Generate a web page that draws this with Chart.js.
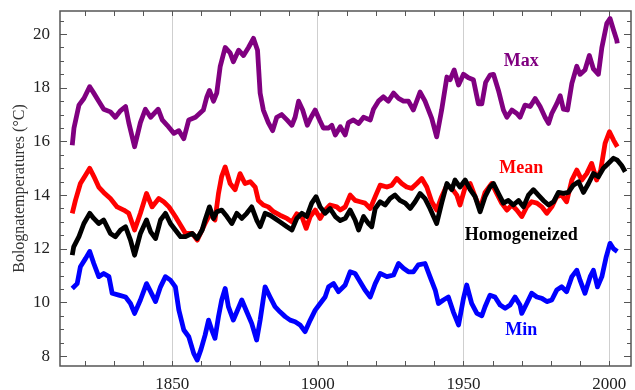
<!DOCTYPE html>
<html>
<head>
<meta charset="utf-8">
<script src="https://cdn.jsdelivr.net/npm/chart.js@4.4.1/dist/chart.umd.min.js"></script>
<style>
  html, body { margin: 0; padding: 0; background: #fff; }
  #wrap { width: 635px; height: 390px; }
</style>
</head>
<body>
<div id="wrap"><canvas id="chart" width="635" height="390"></canvas></div>
<script>
// values (running means, °C)
const maxYears = [1815.7, 1816.3, 1818.0, 1819.7, 1821.7, 1823.1, 1824.8, 1826.5, 1828.8, 1830.5, 1832.3, 1834.0, 1835.1, 1837.1, 1839.1, 1840.8, 1842.6, 1845.2, 1846.6, 1848.3, 1850.6, 1852.3, 1854.0, 1855.7, 1858.0,
  1860.7, 1861.9, 1862.8, 1864.2, 1865.3, 1866.5, 1868.2, 1869.9, 1871.0, 1872.8, 1874.5, 1876.2, 1877.9, 1879.3, 1880.2, 1881.3, 1883.0, 1884.5, 1885.9, 1887.6, 1889.4, 1891.1, 1892.2, 1893.4, 1894.8, 1896.4, 1897.7, 1899.1, 1900.6, 1901.9, 1903.7, 1904.8, 1906.0,
  1907.7, 1909.4, 1910.5, 1912.2, 1914.0, 1915.7, 1918.0, 1919.1, 1920.8, 1922.5, 1924.2, 1926.0, 1927.7, 1929.4, 1931.1, 1932.8, 1935.1, 1936.8, 1939.1, 1940.8, 1942.5, 1944.3, 1945.4, 1946.8, 1948.3, 1950.0, 1951.7, 1953.4, 1955.1, 1956.3,
  1957.6, 1959.1, 1960.3, 1962.0, 1963.7, 1964.9, 1966.6, 1968.3, 1969.4, 1971.1, 1972.9, 1974.6, 1976.3, 1978.0, 1979.2, 1980.3, 1982.0, 1983.2, 1984.3, 1985.7, 1987.2, 1988.9, 1990.0, 1991.7, 1993.2, 1994.6, 1996.3, 1997.5, 1999.2, 2000.3, 2001.5, 2002.6, 2002.8];
const maxTemps = [15.86, 16.5, 17.35, 17.6, 18.04, 17.8, 17.5, 17.2, 17.1, 16.9, 17.15, 17.3, 16.7, 15.8, 16.7, 17.2, 16.9, 17.2, 16.8, 16.6, 16.3, 16.4, 16.1, 16.8, 16.9,
  17.17, 17.66, 17.9, 17.5, 17.8, 18.8, 19.5, 19.3, 18.97, 19.4, 19.2, 19.5, 19.84, 19.4, 17.8, 17.17, 16.7, 16.4, 16.9, 17.0, 16.8, 16.6, 16.9, 17.5, 17.17, 16.6, 16.9, 17.17, 16.8, 16.5, 16.5, 16.6, 16.24,
  16.55, 16.24, 16.7, 16.8, 16.67, 16.9, 16.8, 17.2, 17.5, 17.66, 17.5, 17.8, 17.6, 17.5, 17.5, 17.17, 17.84, 17.5, 16.86, 16.17, 17.17, 18.4, 18.3, 18.66, 18.1, 18.5, 18.37, 18.3, 17.4, 17.4,
  18.2, 18.47, 18.5, 17.9, 17.17, 16.9, 17.17, 17.04, 16.9, 17.35, 17.3, 17.6, 17.3, 16.9, 16.67, 17.04, 17.4, 17.7, 17.2, 17.17, 18.16, 18.8, 18.5, 18.66, 19.2, 18.7, 18.5, 19.5, 20.4, 20.58, 20.15, 19.78, 19.65];

const meanYears = [1815.7, 1816.8, 1818.5, 1820.3, 1821.7, 1823.1, 1824.8, 1826.5, 1828.8, 1831.1, 1833.4, 1835.1, 1837.1, 1839.1, 1841.2, 1843.1, 1845.4, 1847.1, 1848.9, 1851.1, 1852.9, 1854.6, 1856.9, 1858.6,
  1861.3, 1863.0, 1864.7, 1865.9, 1867.0, 1868.2, 1869.9, 1871.6, 1873.3, 1875.0, 1876.8, 1878.5, 1879.6, 1881.3, 1883.0, 1884.8, 1887.0, 1889.4, 1891.1, 1892.8, 1894.5, 1896.0, 1897.4, 1899.1, 1900.8, 1902.5, 1904.2, 1906.5,
  1907.7, 1909.4, 1911.1, 1912.8, 1914.5, 1916.2, 1918.0, 1919.7, 1921.4, 1923.7, 1925.4, 1927.1, 1928.8, 1930.5, 1932.2, 1934.0, 1935.7, 1937.4, 1939.1, 1940.8, 1942.5, 1944.3, 1946.0, 1947.7, 1948.8, 1950.6, 1952.3, 1954.0, 1955.7,
  1957.4, 1959.7, 1961.4, 1963.1, 1964.9, 1966.6, 1968.3, 1970.0, 1971.7, 1973.4, 1975.2, 1976.9, 1978.6, 1980.3, 1982.0, 1983.7, 1985.4, 1987.2, 1988.9, 1990.6, 1992.3, 1994.0, 1995.7, 1997.1, 1998.6, 2000.1, 2001.5, 2002.8];
const meanTemps = [13.32, 13.8, 14.43, 14.75, 15.0, 14.7, 14.3, 14.1, 13.87, 13.56, 13.44, 13.32, 12.7, 13.32, 14.06, 13.56, 13.87, 13.75, 13.56, 13.2, 12.88, 12.57, 12.57, 12.32,
  12.94, 13.3, 13.07, 14.06, 14.7, 15.05, 14.43, 14.2, 14.8, 14.43, 14.5, 14.3, 13.8, 13.63, 13.56, 13.38, 13.25, 13.13, 13.0, 13.3, 13.2, 12.76, 13.2, 13.44, 13.13, 13.44, 13.63, 13.56,
  13.44, 13.56, 14.0, 13.8, 13.75, 13.7, 13.5, 13.94, 14.37, 14.3, 14.37, 14.62, 14.43, 14.3, 14.25, 14.43, 14.62, 14.3, 13.75, 13.44, 13.94, 14.37, 14.25, 14.0, 13.63, 14.3, 14.43, 13.94, 13.5,
  14.1, 14.43, 14.06, 13.7, 13.44, 13.63, 13.44, 13.2, 13.56, 13.75, 13.7, 13.56, 13.32, 13.56, 13.94, 14.0, 13.75, 14.56, 14.93, 14.56, 14.8, 15.18, 14.56, 14.93, 15.93, 16.36, 16.05, 15.8];

const homogYears = [1815.7, 1816.2, 1818.0, 1819.7, 1821.7, 1823.1, 1824.8, 1826.5, 1828.8, 1830.5, 1832.3, 1834.0, 1835.7, 1837.1, 1839.1, 1841.2, 1842.6, 1844.3, 1846.0, 1847.7, 1849.4, 1851.1, 1852.9, 1854.6, 1856.9, 1858.6,
  1860.3, 1861.3, 1862.8, 1864.2, 1865.3, 1867.0, 1868.8, 1870.5, 1872.2, 1873.9, 1875.6, 1877.3, 1879.0, 1880.2, 1881.9, 1883.6, 1885.3, 1887.0, 1889.4, 1891.1, 1892.8, 1894.5, 1896.2, 1897.9, 1899.4, 1900.8, 1902.5, 1904.2, 1906.0,
  1907.7, 1909.4, 1911.1, 1912.8, 1914.0, 1915.7, 1917.4, 1918.5, 1919.7, 1921.4, 1923.1, 1924.8, 1926.5, 1928.2, 1930.0, 1931.7, 1933.4, 1935.1, 1936.8, 1938.5, 1940.8, 1942.5, 1944.3, 1946.0, 1947.1, 1948.8, 1950.6, 1952.3, 1954.0, 1955.7,
  1957.4, 1959.1, 1960.3, 1962.0, 1963.7, 1965.4, 1967.1, 1968.9, 1970.6, 1972.3, 1974.0, 1975.7, 1977.4, 1979.2, 1980.9, 1982.6, 1984.3, 1986.0, 1987.7, 1989.5, 1991.2, 1992.9, 1994.6, 1996.3, 1998.0, 1999.7, 2001.5, 2002.8, 2004.3, 2005.5];
const homogTemps = [11.76, 12.07, 12.45, 12.94, 13.32, 13.13, 12.94, 13.07, 12.57, 12.45, 12.7, 12.82, 12.32, 11.76, 12.57, 13.07, 12.63, 12.38, 13.07, 13.32, 12.94, 12.7, 12.45, 12.45, 12.57, 12.38,
  12.7, 13.07, 13.56, 13.13, 13.38, 13.44, 13.2, 12.94, 13.32, 13.13, 13.32, 13.56, 13.07, 12.82, 13.32, 13.25, 13.13, 13.0, 12.82, 12.7, 13.13, 13.32, 13.2, 13.7, 13.94, 13.56, 13.32, 13.5, 13.2,
  13.05, 13.13, 13.44, 13.07, 12.7, 13.2, 12.94, 12.82, 13.5, 13.75, 13.63, 13.87, 14.0, 13.8, 13.7, 13.5, 13.75, 14.06, 13.87, 13.5, 12.94, 13.7, 14.43, 14.2, 14.56, 14.3, 14.56, 14.2, 13.94, 13.38,
  13.94, 14.3, 14.43, 14.06, 13.7, 13.8, 13.63, 13.8, 13.56, 14.0, 14.2, 14.0, 13.8, 13.63, 13.75, 14.1, 14.06, 14.1, 14.37, 14.5, 14.1, 14.43, 14.8, 14.68, 15.0, 15.18, 15.37, 15.3, 15.1, 14.87];

const minYears = [1815.7, 1817.4, 1818.5, 1820.3, 1821.7, 1823.1, 1824.8, 1826.5, 1828.3, 1829.4, 1831.7, 1834.0, 1835.7, 1837.1, 1839.1, 1841.2, 1842.6, 1844.3, 1846.0, 1847.7, 1849.4, 1851.1, 1852.3, 1854.0, 1855.7, 1857.4, 1858.6,
  1859.9, 1861.3, 1862.5, 1863.6, 1864.7, 1865.9, 1867.0, 1868.2, 1869.3, 1871.0, 1872.2, 1873.9, 1875.6, 1877.3, 1879.0, 1880.2, 1881.9, 1883.6, 1885.3, 1887.0, 1888.8, 1890.5, 1892.2, 1893.9, 1895.6, 1897.4, 1899.1, 1900.8, 1902.5, 1903.7, 1905.4, 1907.1,
  1909.4, 1911.1, 1912.8, 1914.5, 1916.2, 1918.0, 1919.7, 1921.4, 1923.7, 1926.0, 1927.7, 1929.4, 1931.1, 1932.8, 1934.5, 1936.8, 1938.5, 1940.3, 1941.4, 1943.1, 1944.8, 1946.5, 1948.3, 1950.0, 1951.1, 1952.8, 1954.6, 1956.3,
  1957.4, 1959.1, 1960.8, 1962.6, 1964.3, 1966.0, 1967.7, 1969.4, 1970.0, 1971.7, 1973.4, 1975.2, 1976.9, 1978.6, 1980.3, 1982.0, 1983.7, 1985.4, 1987.2, 1988.9, 1990.0, 1991.7, 1993.5, 1994.6, 1996.0, 1997.5, 1999.0, 2000.3, 2001.5, 2002.8];
const minTemps = [10.52, 10.7, 11.33, 11.64, 11.9, 11.45, 10.96, 11.08, 10.96, 10.34, 10.27, 10.2, 9.96, 9.59, 10.09, 10.7, 10.4, 10.03, 10.58, 10.96, 10.83, 10.58, 9.71, 8.97, 8.72, 8.1, 7.85,
  8.25, 8.78, 9.34, 8.97, 8.66, 9.47, 10.09, 10.52, 9.84, 9.34, 9.65, 10.09, 9.65, 9.22, 8.6, 9.34, 10.58, 10.2, 9.84, 9.65, 9.47, 9.34, 9.28, 9.16, 8.91, 9.34, 9.71, 9.96, 10.2, 10.58, 10.7, 10.4,
  10.65, 11.14, 11.08, 10.77, 10.46, 10.2, 10.7, 11.08, 10.96, 11.02, 11.45, 11.27, 11.14, 11.14, 11.4, 11.45, 10.96, 10.46, 9.96, 10.09, 10.2, 9.65, 9.16, 10.15, 10.65, 9.96, 9.59, 9.5,
  9.84, 10.27, 10.2, 9.9, 9.78, 9.9, 10.2, 9.9, 9.59, 9.96, 10.34, 10.2, 10.15, 10.03, 10.09, 10.46, 10.58, 10.4, 10.96, 11.2, 10.83, 10.34, 10.96, 11.2, 10.58, 10.96, 11.7, 12.2, 12.0, 11.9];

const seriesNames = ["Max", "Mean", "Homogeneized", "Min"];
const xLabelYears = [1850, 1900, 1950, 2000];
const xMinorYears = [1820, 1830, 1840, 1850, 1860, 1870, 1880, 1890, 1900, 1910, 1920, 1930, 1940, 1950, 1960, 1970, 1980, 1990, 2000];
const yLabelTemps = [8, 10, 12, 14, 16, 18, 20];
const yMinorTemps = [8, 8.5, 9, 9.5, 10, 10.5, 11, 11.5, 12, 12.5, 13, 13.5, 14, 14.5, 15, 15.5, 16, 16.5, 17, 17.5, 18, 18.5, 19, 19.5, 20, 20.5];

const SERIF = "'Liberation Serif', 'Times New Roman', serif";
const COLORS = { Max: "#800080", Mean: "#ff0000", Homogeneized: "#000000", Min: "#0000ff" };

function toPoints(years, temps) {
  return years.map((year, i) => ({ x: year, y: temps[i] }));
}

function lineDataset(name, years, temps) {
  return {
    label: name,
    data: toPoints(years, temps),
    borderColor: COLORS[name],
    borderWidth: 4.8,
    borderJoinStyle: "round",
    pointRadius: 0,
    tension: 0,
    fill: false,
  };
}

// frame, inward tick marks, axis title and the in-plot series names
const decorations = {
  id: "decorations",
  afterDraw(chart) {
    const { ctx, chartArea: area, scales } = chart;
    const xs = scales.x;
    const ys = scales.y;

    ctx.save();
    ctx.strokeStyle = "#555";
    ctx.lineWidth = 1.5;
    ctx.strokeRect(area.left, area.top, area.right - area.left, area.bottom - area.top);

    ctx.lineWidth = 1;
    ctx.beginPath();
    xMinorYears.forEach((year) => {
      const px = Math.round(xs.getPixelForValue(year)) + 0.5;
      ctx.moveTo(px, area.bottom);
      ctx.lineTo(px, area.bottom - 5);
      ctx.moveTo(px, area.top);
      ctx.lineTo(px, area.top + 5);
    });
    yMinorTemps.forEach((temp) => {
      const py = Math.round(ys.getPixelForValue(temp)) + 0.5;
      const len = yLabelTemps.includes(temp) ? 7 : 4;
      ctx.moveTo(area.left, py);
      ctx.lineTo(area.left + len, py);
      ctx.moveTo(area.right, py);
      ctx.lineTo(area.right - len, py);
    });
    ctx.stroke();

    ctx.fillStyle = "#333";
    ctx.font = `16px ${SERIF}`;
    ctx.textAlign = "center";
    ctx.textBaseline = "middle";
    ctx.translate(20, (area.top + area.bottom) / 2);
    ctx.rotate(-Math.PI / 2);
    ctx.fillText("Bolognatemperatures (°C)", 0, 0);
    ctx.restore();

    const labelYear = 1969.8;
    const labelTemps = [18.99, 15.0, 12.51, 8.97];
    ctx.save();
    ctx.font = `bold 18px ${SERIF}`;
    ctx.textAlign = "center";
    ctx.textBaseline = "middle";
    seriesNames.forEach((name, i) => {
      ctx.fillStyle = COLORS[name];
      ctx.fillText(name, xs.getPixelForValue(labelYear), ys.getPixelForValue(labelTemps[i]));
    });
    ctx.restore();
  },
};

new Chart(document.getElementById("chart"), {
  type: "line",
  data: {
    datasets: [
      lineDataset("Homogeneized", homogYears, homogTemps),
      lineDataset("Mean", meanYears, meanTemps),
      lineDataset("Max", maxYears, maxTemps),
      lineDataset("Min", minYears, minTemps),
    ],
  },
  options: {
    responsive: false,
    animation: false,
    layout: { padding: { top: 11, right: 4, left: 0, bottom: 0 } },
    plugins: {
      legend: { display: false },
      tooltip: { enabled: false },
    },
    scales: {
      x: {
        type: "linear",
        min: 1811.5,
        max: 2007.5,
        afterBuildTicks: (scale) => {
          scale.ticks = xLabelYears.map((value) => ({ value }));
        },
        afterFit: (scale) => {
          scale.height = 24;
          scale.paddingLeft = 0;
          scale.paddingRight = 0;
        },
        ticks: {
          autoSkip: false,
          maxRotation: 0,
          padding: 8,
          color: "#222",
          font: { family: SERIF, size: 17 },
          callback: (value) => String(value),
        },
        grid: { color: "#cfcfcf", lineWidth: 1, drawTicks: false },
        border: { display: false },
      },
      y: {
        min: 7.63,
        max: 20.86,
        afterBuildTicks: (scale) => {
          scale.ticks = yLabelTemps.map((value) => ({ value }));
        },
        afterFit: (scale) => {
          scale.width = 60;
          scale.paddingTop = 0;
          scale.paddingBottom = 0;
        },
        ticks: {
          padding: 10,
          color: "#222",
          font: { family: SERIF, size: 17 },
        },
        grid: { display: false, drawTicks: false },
        border: { display: false },
      },
    },
  },
  plugins: [decorations],
});
</script>
</body>
</html>
